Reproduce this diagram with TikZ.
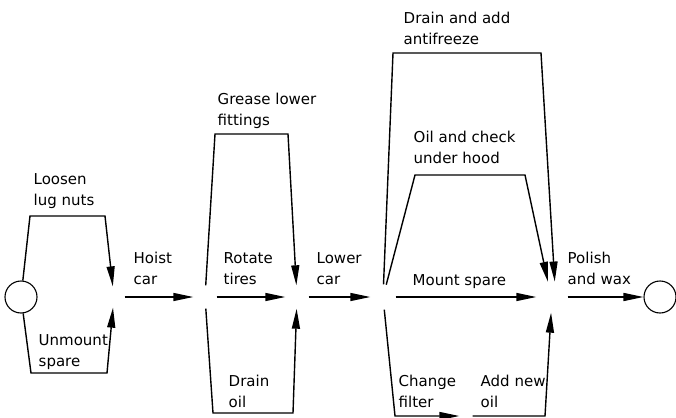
\documentclass[tikz,border=0pt]{standalone}
\usepackage{fontspec}
\setmainfont{DejaVu Sans}
\usetikzlibrary{arrows.meta}
\tikzstyle{mynetworkstyle}=[
    x=1pt, y=-1pt,
    >={Triangle[length=20pt,width=8pt]},
    line width=1.4pt,
    every node/.style={font=\fontsize{15}{21}\selectfont},
]
\tikzstyle{event}=[circle, inner sep=0pt, minimum size=22pt]
\tikzstyle{terminal}=[circle, draw, inner sep=0pt, minimum size=32pt, line width=1.1pt]
\tikzstyle{activity}=[align=left, anchor=base west, inner sep=0pt]

\begin{document}
\begin{tikzpicture}[mynetworkstyle]
        \useasboundingbox (0,0) rectangle (676,417);
        % events
        \node[terminal] (start) at (21,297) {};
        \node[event, minimum size=20pt] (e1) at (114,297) {};
        \node[event] (e2) at (205,297) {};
        \node[event] (e3) at (297,297) {};
        \node[event, minimum size=24pt] (e4) at (383,297) {};
        \node[event, minimum size=30pt] (e5) at (552,297) {};
        \node[event, minimum size=12pt] (e6) at (466,416) {};
        \node[terminal] (finish) at (660,297) {};
        % corners
        \coordinate (lug1) at (30,216);   \coordinate (lug2) at (105,216);
        \coordinate (unm1) at (31,373);   \coordinate (unm2) at (107,373);
        \coordinate (grs1) at (215,134);  \coordinate (grs2) at (288,134);
        \coordinate (dro1) at (213,413);  \coordinate (dro2) at (293,413);
        \coordinate (afz1) at (393,53);   \coordinate (afz2) at (541,53);
        \coordinate (hood1) at (415,175); \coordinate (hood2) at (525,175);
        \coordinate (flt1) at (395,416);  \coordinate (oil2) at (545,416);
        % activities
        \draw[->] (start) -- (lug1) -- (lug2) -- (e1);
        \draw[->] (start) -- (unm1) -- (unm2) -- (e1);
        \draw[->] (e1) -- (e2);
        \draw[->] (e2) -- (grs1) -- (grs2) -- (e3);
        \draw[->] (e2) -- (e3);
        \draw[->] (e2) -- (dro1) -- (dro2) -- (e3);
        \draw[->] (e3) -- (e4);
        \draw[->] (e4) -- (afz1) -- (afz2) -- (e5.80);
        \draw[->] (e4) -- (hood1) -- (hood2) -- (e5.105);
        \draw[->] (e4) -- (e5);
        \draw[->] (e4) -- (flt1) -- (e6);
        \draw[->] (e6) -- (oil2) -- (e5);
        \draw[->] (e5) -- (finish);
        % labels
        \node[activity] (loosen) at (33,205) {Loosen\\lug nuts};
        \node[activity] (unmount) at (38,366) {Unmount\\spare};
        \node[activity] (hoist) at (133,284) {Hoist\\car};
        \node[activity] (grease) at (217,125) {Grease lower\\fittings};
        \node[activity] (rotate) at (223,284) {Rotate\\tires};
        \node[activity] (drainoil) at (228,407) {Drain\\oil};
        \node[activity] (lower) at (316,284) {Lower\\car};
        \node[activity] (antifreeze) at (403,45) {Drain and add\\antifreeze};
        \node[activity] (hood) at (413,163) {Oil and check\\under hood};
        \node[activity] (mount) at (412,285) {Mount spare};
        \node[activity] (filter) at (398,407) {Change\\filter};
        \node[activity] (newoil) at (480,407) {Add new\\oil};
        \node[activity] (polish) at (567,284) {Polish\\and wax};
    \end{tikzpicture}
\end{document}
